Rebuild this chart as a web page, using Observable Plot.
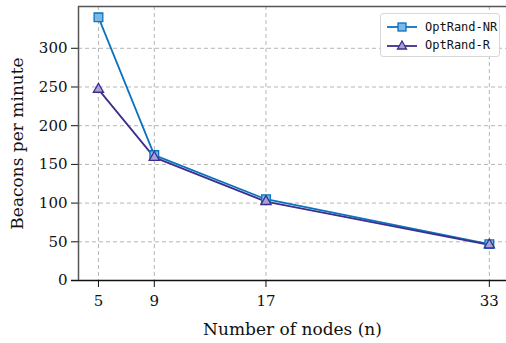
<!DOCTYPE html>
<html>
<head>
<meta charset="utf-8">
<script src="https://cdn.jsdelivr.net/npm/d3@7"></script>
<script src="https://cdn.jsdelivr.net/npm/@observablehq/plot@0.6"></script>
<style>
  html, body { margin: 0; padding: 0; background: #fff; }
  #wrap { position: relative; width: 506px; height: 343px; }
  #legend {
    position: absolute; left: 380px; top: 13px; width: 120px; height: 44px;
    box-sizing: border-box; border: 1px solid #d8d8d8; border-radius: 3px; background: rgba(255,255,255,0.9);
    font-family: "DejaVu Sans Mono", monospace; font-size: 12px; color: #111;
    padding: 4px 0 0 6px;
  }
  #legend .row { display: flex; align-items: center; height: 18px; }
  #legend svg { margin-right: 8px; }
</style>
</head>
<body>
<div id="wrap"></div>
<script>
const nodes = [5, 9, 17, 33];
const seriesNames = ["OptRand-NR", "OptRand-R"];
const valuesNR = [340, 162, 105, 47];
const valuesR = [247, 159, 102, 46];
const yTicks = [0, 50, 100, 150, 200, 250, 300];

const colNR = "#0a72c0", fillNR = "#7ab8e6";
const colR = "#3a2f8c", fillR = "#a9a1d8";

const data = [];
nodes.forEach((n, i) => {
  data.push({n, v: valuesNR[i], s: seriesNames[0]});
  data.push({n, v: valuesR[i], s: seriesNames[1]});
});
const nr = data.filter(d => d.s === seriesNames[0]);
const r = data.filter(d => d.s === seriesNames[1]);

const serif = "DejaVu Serif";
const plot = Plot.plot({
  width: 506, height: 343,
  marginLeft: 78, marginTop: 6, marginRight: 0, marginBottom: 63,
  style: {fontFamily: "'DejaVu Serif', serif", fontSize: "15px", color: "#111", background: "#fff"},
  x: {domain: [3.57, 34.23]},
  y: {domain: [0, 354]},
  marks: [
    Plot.gridX(nodes, {stroke: "#b5b5b5", strokeOpacity: 1, strokeDasharray: "4,3", strokeWidth: 1}),
    Plot.gridY(yTicks.filter(t => t > 0), {stroke: "#b5b5b5", strokeOpacity: 1, strokeDasharray: "4,3", strokeWidth: 1}),
    Plot.axisX({ticks: nodes, tickFormat: d => String(d), tickSize: 7, tickPadding: 8, fontSize: 15, fontFamily: serif, label: null}),
    Plot.axisX({ticks: [], label: "Number of nodes (n)", labelOffset: 54, labelAnchor: "center", labelArrow: "none", fontSize: 17, fontFamily: serif, tickSize: 0}),
    Plot.axisY({ticks: yTicks, tickSize: 7, tickPadding: 4, fontSize: 15, fontFamily: serif, label: null}),
    Plot.axisY({ticks: [], label: "Beacons per minute", labelOffset: 68, labelAnchor: "center", labelArrow: "none", fontSize: 17, fontFamily: serif, tickSize: 0}),
    Plot.ruleY([0], {stroke: "#111", strokeWidth: 1.3, insetLeft: -7}),
    Plot.ruleX([3.57], {stroke: "#555", strokeWidth: 1.5}),
    Plot.ruleY([354], {stroke: "#555", strokeWidth: 1.5}),
    Plot.line(nr, {x: "n", y: "v", stroke: colNR, strokeWidth: 1.8}),
    Plot.line(r, {x: "n", y: "v", stroke: colR, strokeWidth: 1.8}),
    Plot.dot(nr, {x: "n", y: "v", symbol: "square", r: 4.9, stroke: colNR, fill: fillNR, strokeWidth: 1.3}),
    Plot.dot(r, {x: "n", y: "v", symbol: "triangle", r: 3.8, stroke: colR, fill: fillR, strokeWidth: 1.3})
  ]
});
const wrap = document.getElementById("wrap");
wrap.appendChild(plot);

const legend = document.createElement("div");
legend.id = "legend";
legend.innerHTML = `
<div class="row"><svg width="30" height="12"><line x1="0" y1="6" x2="30" y2="6" stroke="${colNR}" stroke-width="1.8"/><rect x="11" y="2" width="8" height="8" fill="${fillNR}" stroke="${colNR}" stroke-width="1.3"/></svg>${seriesNames[0]}</div>
<div class="row"><svg width="30" height="12"><line x1="0" y1="7" x2="30" y2="7" stroke="${colR}" stroke-width="1.8"/><polygon points="15,2 19.5,10 10.5,10" fill="${fillR}" stroke="${colR}" stroke-width="1.3"/></svg>${seriesNames[1]}</div>`;
wrap.appendChild(legend);
</script>
</body>
</html>
